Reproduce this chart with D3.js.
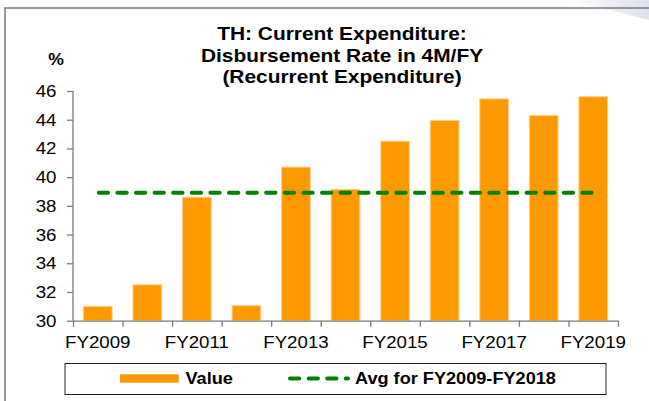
<!DOCTYPE html>
<meta charset="utf-8">
<head>
<script src="https://d3js.org/d3.v7.min.js"></script>
</head>
<style>
    html, body { margin: 0; padding: 0; background: white; }
    text { font-family: "Liberation Sans", Arial, sans-serif; fill: #000; }
    .axis path, .axis line { stroke: #7a7a7a; stroke-width: 1.3; }
    .bar { fill: #ff9900; stroke: #ffd08a; stroke-width: 1; }
</style>
<body>
<div id="chart"></div>
<script>

// data
var years = ["FY2009","FY2010","FY2011","FY2012","FY2013","FY2014","FY2015","FY2016","FY2017","FY2018","FY2019"];
var values = [31.0, 32.5, 38.6, 31.05, 40.7, 39.15, 42.5, 43.95, 45.45, 44.3, 45.6];
var avgValue = 38.92;
var yTicks = [30, 32, 34, 36, 38, 40, 42, 44, 46];
var xLabels = ["FY2009","FY2011","FY2013","FY2015","FY2017","FY2019"];
var titleLines = ["TH: Current Expenditure:", "Disbursement Rate in 4M/FY", "(Recurrent Expenditure)"];

var W = 649, H = 401;
var sx = 1.1; // the picture's text is a bit wider than tall

var svg = d3.select("#chart").append("svg")
    .attr("width", W)
    .attr("height", H);

// faint shading in the top right corner
var grad = svg.append("defs").append("linearGradient")
    .attr("id", "corner").attr("x1", "0").attr("x2", "1").attr("y1", "0").attr("y2", "0");
grad.append("stop").attr("offset", "0").attr("stop-color", "#ffffff");
grad.append("stop").attr("offset", "1").attr("stop-color", "#dfe2ee");
svg.append("polygon")
    .attr("points", "560,0 649,0 649,20 600,8")
    .attr("fill", "url(#corner)");

// outer frame
svg.append("rect")
    .attr("x", 5).attr("y", 8)
    .attr("width", 700).attr("height", 450)
    .attr("fill", "none")
    .attr("stroke", "#7a7a7a")
    .attr("stroke-width", 1.5);

var plotLeft = 73, plotRight = 618, plotTop = 91, plotBottom = 320.7;

var x = d3.scaleBand().domain(years).range([plotLeft, plotRight])
    .paddingInner(0.42).paddingOuter(0.21);
var xEdge = d3.scaleLinear().domain([0, years.length]).range([plotLeft, plotRight]);
var y = d3.scaleLinear().domain([30, 46]).range([plotBottom, plotTop]);

function label(g, txt, px, py, anchor, size, weight) {
    return g.append("text")
        .attr("transform", "translate(" + px + "," + py + ") scale(" + sx + ",1)")
        .attr("text-anchor", anchor)
        .style("font-size", size + "px")
        .style("font-weight", weight || "normal")
        .text(txt);
}

// title
titleLines.forEach(function(t, i) {
    label(svg, t, 342, 40 + i * 21.5, "middle", 19, "bold");
});
label(svg, "%", 56, 65, "middle", 16, "bold");

// bars
svg.selectAll(".bar")
    .data(values)
  .enter().append("rect")
    .attr("class", "bar")
    .attr("x", function(d, i) { return x(years[i]); })
    .attr("y", function(d) { return y(d); })
    .attr("width", x.bandwidth())
    .attr("height", function(d) { return plotBottom - y(d); });

// y axis
var yAxis = svg.append("g")
    .attr("class", "axis")
    .attr("transform", "translate(" + plotLeft + ",0)")
    .call(d3.axisLeft(y).tickValues(yTicks).tickSize(6).tickSizeOuter(0).tickPadding(9));
yAxis.selectAll("text")
    .style("font-size", "17px")
    .attr("transform", "scale(" + sx + ",1)");
yAxis.select(".domain").remove();
yAxis.append("line")
    .attr("x1", 0).attr("x2", 0)
    .attr("y1", plotTop).attr("y2", plotBottom)
    .attr("stroke", "#7a7a7a").attr("stroke-width", 1.3);

// x axis, ticks on the category edges
var xAxis = svg.append("g")
    .attr("class", "axis")
    .attr("transform", "translate(0," + plotBottom + ")")
    .call(d3.axisBottom(xEdge).tickValues(d3.range(years.length + 1))
        .tickSize(6).tickSizeOuter(0).tickFormat(""));

xLabels.forEach(function(t) {
    label(svg, t, x(t) + x.bandwidth() / 2, 347.5, "middle", 17);
});

// average line
var half = x.bandwidth() / 2;
svg.append("line")
    .attr("x1", x(years[0]) + half + 1)
    .attr("x2", x(years[years.length - 1]) + half)
    .attr("y1", y(avgValue)).attr("y2", y(avgValue))
    .attr("stroke", "#008000")
    .attr("stroke-width", 4)
    .attr("stroke-linecap", "round")
    .attr("stroke-dasharray", "9.3,9.3");

// legend
var lg = svg.append("g");
lg.append("rect")
    .attr("x", 65).attr("y", 363.5)
    .attr("width", 541).attr("height", 31)
    .attr("fill", "white")
    .attr("stroke", "#222")
    .attr("stroke-width", 1);
lg.append("rect")
    .attr("x", 120).attr("y", 374.3)
    .attr("width", 58.7).attr("height", 8.4)
    .attr("fill", "#ff9900");
label(lg, "Value", 185.5, 383.5, "start", 16.5, "bold");
lg.append("line")
    .attr("x1", 290).attr("x2", 348)
    .attr("y1", 378.5).attr("y2", 378.5)
    .attr("stroke", "#008000")
    .attr("stroke-width", 4)
    .attr("stroke-linecap", "round")
    .attr("stroke-dasharray", "9.3,9.3");
label(lg, "Avg for FY2009-FY2018", 355, 383.5, "start", 16.5, "bold");

</script>
</body>
